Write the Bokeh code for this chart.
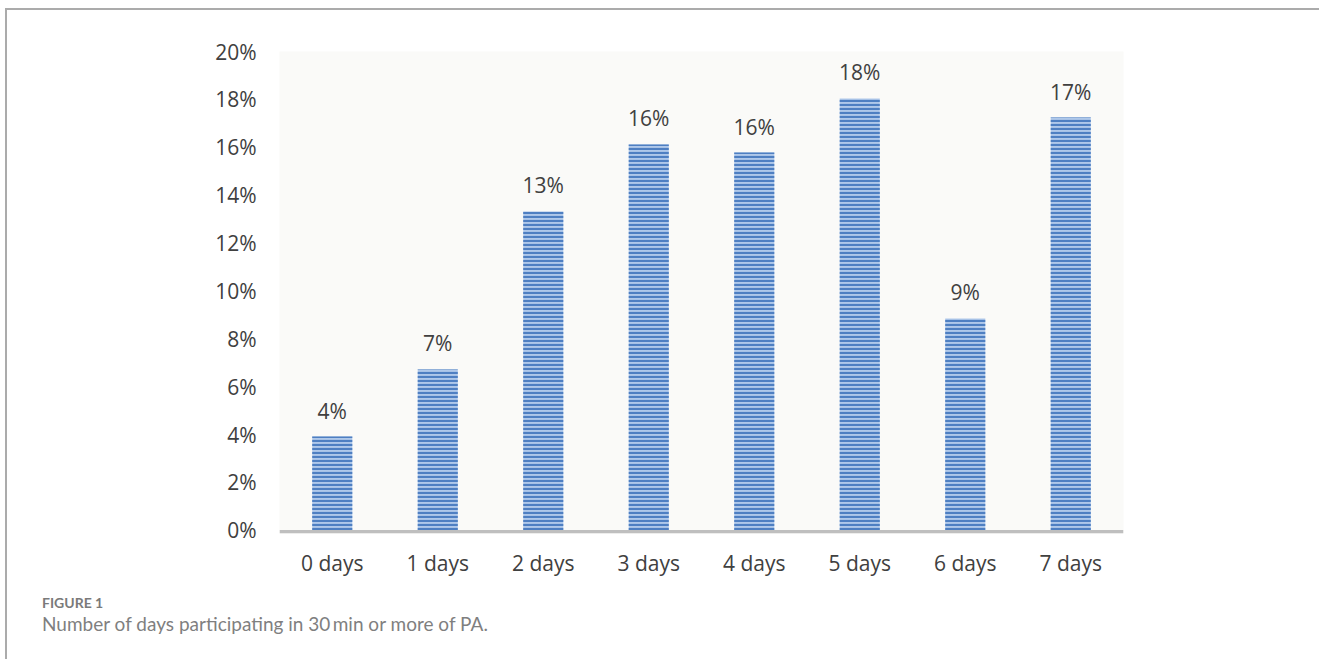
from bokeh.plotting import figure
from bokeh.layouts import column
from bokeh.models import (ColumnDataSource, LabelSet, NumeralTickFormatter,
                          FixedTicker, Span, Div)
from bokeh.core.properties import value
from bokeh.embed import file_html
from bokeh.resources import INLINE

categories = ["0 days", "1 days", "2 days", "3 days", "4 days", "5 days", "6 days", "7 days"]
values = [3.92, 6.72, 13.32, 16.12, 15.78, 18.04, 8.85, 17.24]
labels = [f"{round(v)}%" for v in values]
y_ticks = [0, 2, 4, 6, 8, 10, 12, 14, 16, 18, 20]
fig_label = "FIGURE 1"
caption = "Number of days participating in 30\u2009min or more of PA."

src = ColumnDataSource(dict(cat=categories, val=[v / 100 for v in values], lab=labels))

OX, OY = 7, 10  # offset of the figure inside the bordered box
W, H = 1319 - OX, 590 - OY
p = figure(width=W, height=H, x_range=categories, y_range=(-0.0013, 0.20),
           output_backend="svg", toolbar_location=None,
           min_border_left=279 - OX, min_border_right=1319 - 1123,
           min_border_top=51 - OY, min_border_bottom=590 - 533)
p.background_fill_color = "#FAFAF8"
p.border_fill_color = "white"
p.outline_line_color = None
p.grid.grid_line_color = None

p.vbar(x="cat", top="val", width=0.38, source=src,
       fill_color="#AFC8EA", line_color=None,
       hatch_pattern="horizontal_line", hatch_color="#4E7FC2",
       hatch_scale=4, hatch_weight=2.2)

p.add_layout(Span(location=-0.0006, dimension="width", line_color="#BFBFBF", line_width=3.5))

ls = LabelSet(x="cat", y="val", text="lab", source=src, y_offset=12,
              text_align="center", text_baseline="bottom",
              text_font=value("Open Sans"), text_font_size="21px", text_color="#404040")
p.add_layout(ls)

p.yaxis.ticker = FixedTicker(ticks=[t / 100 for t in y_ticks])
p.yaxis.formatter = NumeralTickFormatter(format="0%")
for ax in (p.xaxis, p.yaxis):
    ax.axis_line_color = None
    ax.major_tick_line_color = None
    ax.minor_tick_line_color = None
    ax.major_label_text_font = "Open Sans"
    ax.major_label_text_font_size = "21px"
    ax.major_label_text_color = "#404040"
p.yaxis.major_label_standoff = 17
p.xaxis.major_label_standoff = 9

cap = Div(text=(f'<div style="font-family:Lato;font-weight:bold;font-size:14px;color:#7a7a7a;'
                f'line-height:18px;margin-top:-1px">{fig_label}</div>'
                f'<div style="font-family:Lato;font-size:19px;color:#7f7f7f;line-height:24px;'
                f'margin-top:0px">{caption}</div>'),
          width=W - 40, height=659 - 590,
          styles={"padding-left": "30px"})

layout = column(p, cap, spacing=0, margin=(8, 0, 0, 5),
                styles={"border-top": "2px solid #ABABAB", "border-left": "2px solid #ABABAB"})

open("out.html", "w").write(file_html(layout, INLINE))
